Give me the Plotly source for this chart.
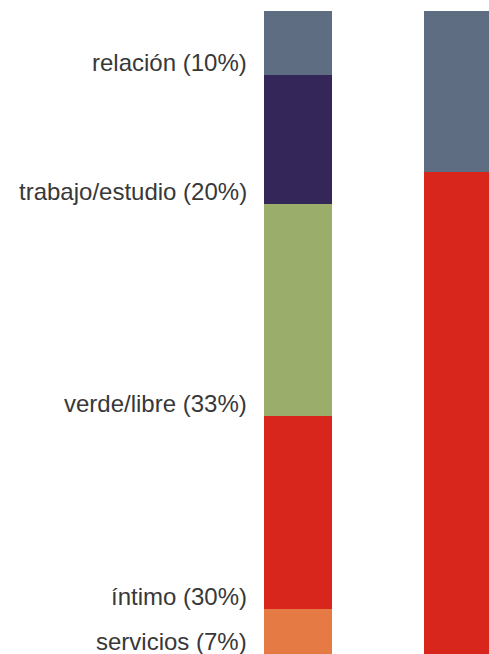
import plotly.graph_objects as go

# Data
bars = ["A", "B"]
categories = ["servicios", "íntimo", "verde/libre", "trabajo/estudio", "relación"]
left_values = [7, 30, 33, 20, 10]
right_categories = ["rojo", "gris"]
right_values = [75, 25]

cat_colors = {
    "servicios": "#e67a45",
    "íntimo": "#d9261c",
    "verde/libre": "#9bad6b",
    "trabajo/estudio": "#35265a",
    "relación": "#5f6d82",
}
right_colors = {"rojo": "#d9261c", "gris": "#5f6d82"}

BAR_W = 0.42
fig = go.Figure()
for c, v in zip(categories, left_values):
    fig.add_trace(go.Bar(x=[0], y=[v], width=BAR_W, marker=dict(color=cat_colors[c], line=dict(width=0)),
                         showlegend=False, hoverinfo="skip"))
for c, v in zip(right_categories, right_values):
    fig.add_trace(go.Bar(x=[1], y=[v], width=BAR_W, marker=dict(color=right_colors[c], line=dict(width=0)),
                         showlegend=False, hoverinfo="skip"))

annotations = []
base = 0
for c, v in zip(categories, left_values):
    annotations.append(dict(
        x=-BAR_W / 2, y=base, xref="x", yref="y", xanchor="right", yanchor="bottom",
        xshift=-15, yshift=-3, showarrow=False,
        text=f"{c} ({v}%)",
        font=dict(family="Liberation Sans, Arial, sans-serif", size=24, color="#383838"),
    ))
    base += v

W, H = 489, 654
px_per_unit = 160
center0 = 298
fig.update_layout(
    barmode="stack",
    width=W, height=H,
    margin=dict(l=0, r=0, t=11, b=0),
    paper_bgcolor="white", plot_bgcolor="white",
    xaxis=dict(range=[-center0 / px_per_unit, (W - center0) / px_per_unit], visible=False, fixedrange=True),
    yaxis=dict(range=[0, 100], visible=False, fixedrange=True),
    annotations=annotations,
    bargap=0,
)
fig.write_html(
    "out.html",
    config={"displayModeBar": False},
    post_script="document.body.style.margin='0';document.body.style.overflow='hidden';document.documentElement.style.overflow='hidden';",
)
